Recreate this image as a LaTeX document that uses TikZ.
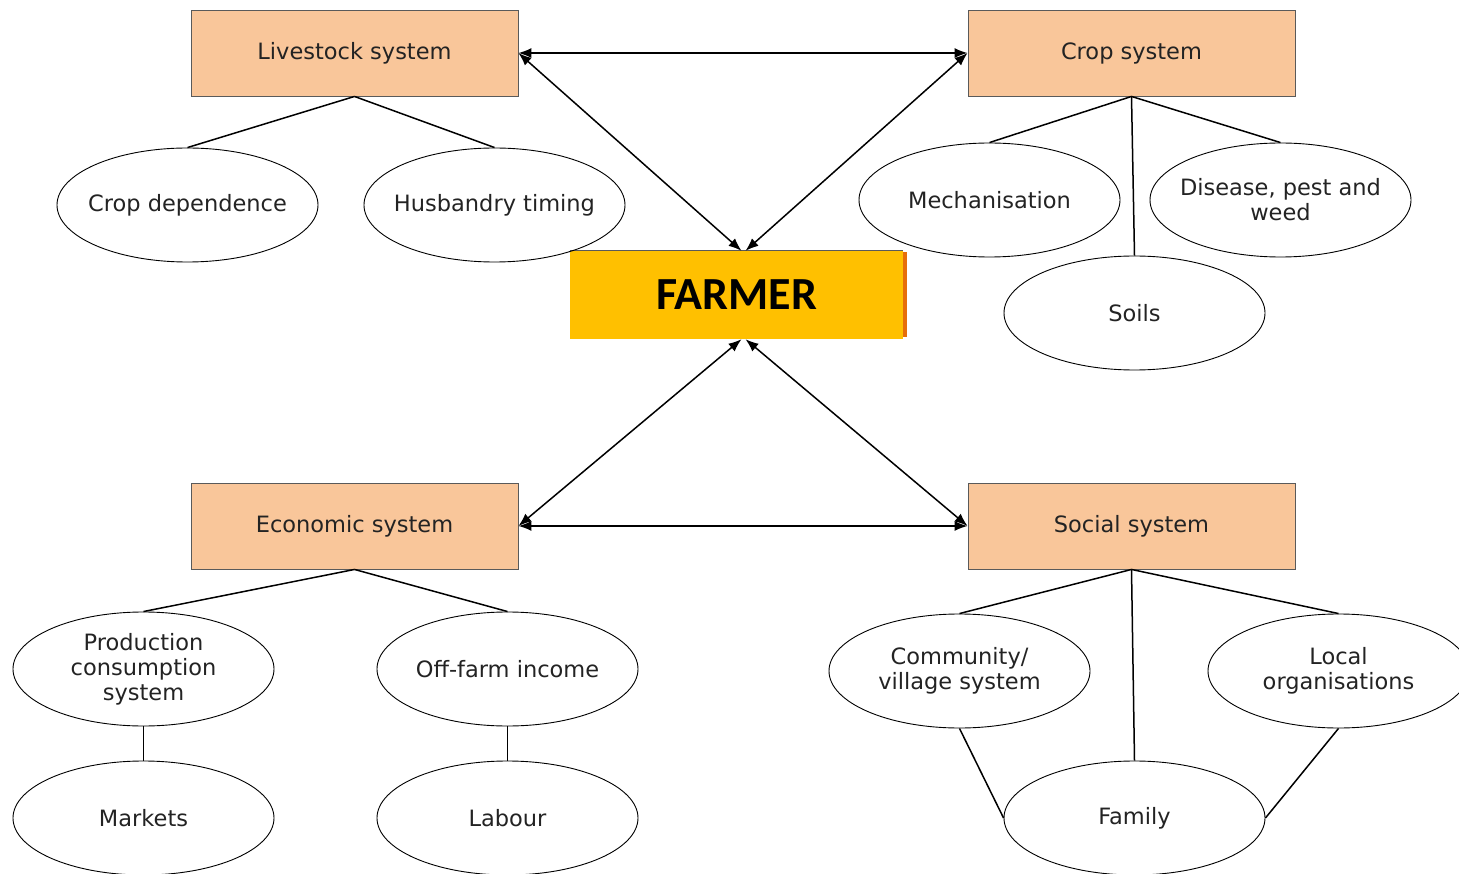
\documentclass[tikz,border=0pt]{standalone}
\usepackage{fontspec}
\setmainfont{DejaVu Sans}
\newfontfamily\farmerfont{Carlito}
\usepackage{xcolor}
\usepackage{tikz}
\usetikzlibrary{arrows.meta,positioning,shapes.geometric,calc}
\definecolor{sysfill}{RGB}{249, 198, 154}
\definecolor{sysedge}{RGB}{90, 90, 90}
\definecolor{farmergold}{RGB}{255, 192, 0}
\definecolor{farmeredge}{RGB}{230, 110, 10}
\definecolor{labelgrey}{RGB}{35, 35, 35}

\begin{document}
\begin{tikzpicture}[x=1pt,y=-1pt,
  sysbox/.style={rectangle,draw=sysedge,line width=0.9pt,fill=sysfill,minimum width=327pt,minimum height=86pt,
    inner sep=0pt,font=\fontsize{22.5}{25}\selectfont,text=labelgrey},
  item/.style={ellipse,draw=black,line width=0.9pt,minimum width=261pt,minimum height=114pt,inner sep=-25pt,
    align=center,font=\fontsize{22.5}{25}\selectfont,text=labelgrey},
  branch/.style={black,line width=1.5pt},
  link/.style={black,line width=1.5pt,{Latex[length=13pt,width=10pt]}-{Latex[length=13pt,width=10pt]}}]
\useasboundingbox (0,0) rectangle (1459,874);
% centre
\fill[farmeredge] (901,252) rectangle (907,337);
\node[rectangle,fill=farmergold,minimum width=333pt,minimum height=88pt,inner sep=0pt,
  font=\farmerfont\bfseries\fontsize{46}{50}\selectfont](farmer) at (736.5,295){FARMER};
\draw[sysedge,line width=0.9pt](farmer.north west)--(farmer.north east);
% systems
\node[sysbox](live) at (354.5,53){Livestock system};
\node[sysbox](crop) at (1131.5,53){Crop system};
\node[sysbox](econ) at (354.5,526){Economic system};
\node[sysbox](soc) at (1131.5,526){Social system};
% livestock
\node[item](cropdep) at (187.5,205){Crop dependence};
\node[item](husb) at (494.5,205){Husbandry timing};
\draw[branch](live.south)--(cropdep.north); \draw[branch](live.south)--(husb.north);
% crop
\node[item](mech) at (989.5,200){Mechanisation};
\node[item](dis) at (1280.5,200){Disease, pest and\\weed};
\node[item](soils) at (1134.5,313){Soils};
\draw[branch](crop.south)--(mech.north); \draw[branch](crop.south)--(dis.north);
\draw[branch](crop.south)--(soils.north);
% economic
\node[item](prod) at (143.5,669){Production\\consumption\\system};
\node[item](offfarm) at (507.5,669){Off-farm income};
\node[item](markets) at (143.5,818){Markets};
\node[item](labour) at (507.5,818){Labour};
\draw[branch](econ.south)--(prod.north); \draw[branch](econ.south)--(offfarm.north);
\draw[branch](prod.south)--(markets.north); \draw[branch](offfarm.south)--(labour.north);
% social
\node[item](comm) at (959.5,671){Community/\\village system};
\node[item](local) at (1338.5,671){Local\\organisations};
\node[item](family) at (1134.5,818){Family};
\draw[branch](soc.south)--(comm.north); \draw[branch](soc.south)--(local.north);
\draw[branch](soc.south)--(family.north);
\draw[branch](comm.south)--(family.west); \draw[branch](local.south)--(family.east);
% links
\draw[link](live.east)--(crop.west);
\draw[link](econ.east)--(soc.west);
\draw[link](live.east)--([xshift=5pt]farmer.north);
\draw[link](crop.west)--([xshift=9pt]farmer.north);
\draw[link]([xshift=5pt]farmer.south)--(econ.east);
\draw[link]([xshift=9pt]farmer.south)--(soc.west);
\end{tikzpicture}
\end{document}
